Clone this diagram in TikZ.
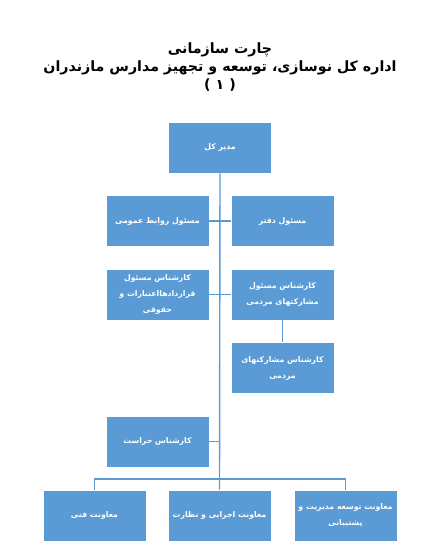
\documentclass[tikz,border=0pt]{standalone}
\usepackage{fontspec}
\usepackage{xcolor}
\usetikzlibrary{positioning,calc}
\TeXXeTstate=1
\newfontfamily\arabicfont[Script=Arabic]{DejaVu Sans}
\definecolor{boxblue}{HTML}{5B9BD5}
\definecolor{lineblue}{HTML}{5B9BD5}
\tikzset{
  orgbox/.style={rectangle, fill=boxblue, draw=white, line width=0.8pt,
    minimum width=103pt, minimum height=51pt, align=center, text=white,
    font=\arabicfont\bfseries\fontsize{7.8}{16}\selectfont, inner sep=2pt},
  orgline/.style={draw=lineblue, line width=1.4pt},
  charttitle/.style={align=center, text=black,
    font=\arabicfont\bfseries\fontsize{14.2}{18}\selectfont, inner sep=0pt}
}

\begin{document}
\begin{tikzpicture}[x=1pt, y=-1pt]

  \useasboundingbox (0,0) rectangle (440,542);

  % ============ Title ============
  \node[charttitle] (title) at (220,67)
    {\beginR چارت سازمانی\endR\\
     \beginR اداره کل نوسازی، توسعه و تجهیز مدارس مازندران\endR\\
     ) ۱ (};

  % ============ Head ============
  \node[orgbox] (head) at (220,147.5) {\beginR مدیر کل\endR};

  % ============ Side boxes ============
  \node[orgbox] (pr)       at (157.5,221)   {\beginR مسئول روابط عمومی\endR};
  \node[orgbox] (office)   at (282.5,221)   {\beginR مسئول دفتر\endR};
  \node[orgbox] (contract) at (157.5,294.5)
    {\beginR کارشناس مسئول\endR\\ \beginR قراردادهااعتبارات و\endR\\ \beginR حقوقی\endR};
  \node[orgbox] (partner)  at (282.5,294.5)
    {\beginR کارشناس مسئول\endR\\ \beginR مشارکتهای مردمی\endR};
  \node[orgbox] (partner2) at (282.5,368)
    {\beginR کارشناس مشارکتهای\endR\\ \beginR مردمی\endR};
  \node[orgbox] (guard)    at (157.5,441.5) {\beginR کارشناس حراست\endR};

  % ============ Deputies (bottom row) ============
  \node[orgbox] (tech)   at (94.5,515.5)  {\beginR معاونت فنی\endR};
  \node[orgbox] (exec)   at (219.5,515.5) {\beginR معاونت اجرایی و نظارت\endR};
  \node[orgbox] (devel)  at (345.5,515.5)
    {\beginR معاونت توسعه مدیریت و\endR\\ \beginR پشتیبانی\endR};

  \coordinate (bus) at (220,479);

  % ============ Connectors ============
  \draw[orgline] (head.south) -- (exec.north);
  \draw[orgline] (pr.east) -- (office.west);
  \draw[orgline] (contract.east) -- (partner.west);
  \draw[orgline] (partner.south) -- (partner2.north);
  \draw[orgline] (guard.east) -- (guard.east -| head.south);
  \draw[orgline] (tech.north) |- (bus) -| (devel.north);

\end{tikzpicture}
\end{document}
